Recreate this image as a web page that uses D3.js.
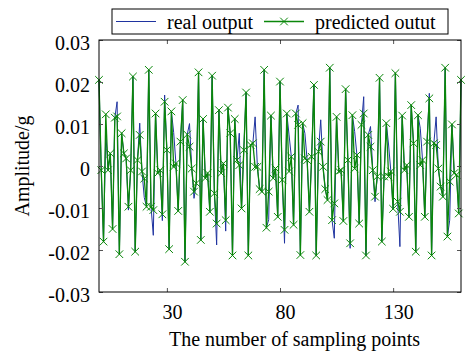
<!DOCTYPE html>
<html>
<head>
<meta charset="utf-8">
<script src="https://cdn.jsdelivr.net/npm/d3@7"></script>
<style>
  html, body { margin: 0; padding: 0; background: #fff; }
  svg { display: block; }
  text { font-family: "Times New Roman", "Liberation Serif", serif; fill: #000; }
</style>
</head>
<body>
<svg id="chart" width="468" height="351"></svg>
<script>
// Predicted output, one value per sampling point (0..160)
const predictedOutput = [
  0.0205, -0.0010, -0.0180, 0.0123, -0.0010, 0.0030, -0.0150, 0.0115, 0.0118, -0.0210,
  0.0078, 0.0030, 0.0018, -0.0097, -0.0010, 0.0213, -0.0204, 0.0014, 0.0074, -0.0013,
  -0.0030, -0.0097, 0.0229, -0.0097, -0.0105, 0.0125, -0.0017, -0.0010, -0.0115, 0.0153,
  0.0038, -0.0198, 0.0130, -0.0002, 0.0006, -0.0107, 0.0058, 0.0157, -0.0228, 0.0075,
  0.0046, -0.0006, -0.0061, -0.0041, 0.0223, -0.0176, 0.0112, -0.0029, -0.0017, -0.0109,
  0.0215, -0.0065, -0.0137, 0.0133, -0.0017, 0.0006, -0.0129, 0.0139, 0.0078, -0.0213,
  0.0112, 0.0014, 0.0002, -0.0101, 0.0038, 0.0175, -0.0213, 0.0050, 0.0054, -0.0002,
  -0.0002, -0.0055, -0.0061, 0.0229, -0.0147, -0.0061, 0.0120, -0.0029, -0.0006, -0.0121,
  0.0201, -0.0033, -0.0152, 0.0125, -0.0013, 0.0022, -0.0140, 0.0125, 0.0098, -0.0212,
  0.0102, 0.0018, 0.0014, -0.0109, 0.0022, 0.0193, -0.0213, 0.0034, 0.0058, -0.0002,
  -0.0055, -0.0081, 0.0234, -0.0129, -0.0089, 0.0117, -0.0013, -0.0010, -0.0131, 0.0183,
  0.0014, -0.0184, 0.0121, -0.0006, 0.0026, -0.0137, 0.0098, 0.0125, -0.0213, 0.0074,
  0.0046, -0.0010, -0.0073, -0.0025, 0.0210, -0.0180, -0.0025, 0.0102, -0.0025, -0.0013,
  -0.0102, 0.0221, -0.0085, -0.0109, 0.0120, -0.0010, 0.0002, -0.0121, 0.0145, 0.0054,
  -0.0204, 0.0121, 0.0002, 0.0014, -0.0121, 0.0058, 0.0161, -0.0213, 0.0054, 0.0050,
  -0.0006, -0.0049, -0.0073, 0.0234, -0.0168, -0.0037, 0.0099, -0.0017, -0.0021, -0.0113,
  0.0205
];

// Measured (real) output at the same sampling points
const realOutput = [
  0.0205, -0.0010, -0.0180, 0.0080, -0.0010, 0.0030, -0.0150, 0.0115, 0.0153, -0.0210,
  0.0078, 0.0030, 0.0018, -0.0105, -0.0010, 0.0213, -0.0204, 0.0014, 0.0102, -0.0013,
  -0.0075, -0.0097, 0.0229, -0.0097, -0.0165, 0.0125, -0.0017, -0.0010, -0.0130, 0.0169,
  0.0038, -0.0198, 0.0130, 0.0080, 0.0006, -0.0107, 0.0058, 0.0157, -0.0228, 0.0075,
  0.0101, -0.0006, -0.0077, -0.0041, 0.0223, -0.0176, 0.0112, -0.0029, -0.0017, -0.0109,
  0.0215, -0.0065, -0.0188, 0.0133, -0.0017, 0.0006, -0.0155, 0.0139, 0.0078, -0.0213,
  0.0112, 0.0014, 0.0078, -0.0101, 0.0038, 0.0175, -0.0213, 0.0050, 0.0054, 0.0117,
  -0.0002, -0.0055, -0.0061, 0.0229, -0.0147, -0.0128, 0.0120, -0.0029, -0.0006, -0.0121,
  0.0201, -0.0033, -0.0184, 0.0125, 0.0074, 0.0022, -0.0140, 0.0125, 0.0145, -0.0212,
  0.0102, 0.0078, 0.0014, -0.0109, 0.0022, 0.0193, -0.0213, 0.0034, 0.0110, -0.0002,
  -0.0055, -0.0081, 0.0234, -0.0129, -0.0172, 0.0117, -0.0013, -0.0010, -0.0131, 0.0183,
  0.0014, -0.0196, 0.0121, 0.0082, 0.0026, -0.0137, 0.0098, 0.0165, -0.0213, 0.0074,
  0.0094, -0.0010, -0.0085, -0.0025, 0.0210, -0.0180, -0.0025, 0.0102, 0.0050, -0.0013,
  -0.0102, 0.0221, -0.0085, -0.0192, 0.0120, -0.0010, 0.0002, -0.0121, 0.0145, 0.0054,
  -0.0204, 0.0121, 0.0090, 0.0014, -0.0121, 0.0058, 0.0173, -0.0213, 0.0054, 0.0117,
  -0.0006, -0.0049, -0.0073, 0.0234, -0.0168, -0.0129, 0.0099, -0.0017, -0.0021, -0.0113,
  0.0205
];

const xTickValues = [30, 80, 130];
const yTickValues = [-0.03, -0.02, -0.01, 0, 0.01, 0.02, 0.03];
const yTickLabels = ["-0.03", "-0.02", "-0.01", "0", "0.01", "0.02", "0.03"];
const seriesNames = ["real output", "predicted outut"];
const seriesColors = ["#1f33a0", "#0a870a"];
const xLabel = "The number of sampling points";
const yLabel = "Amplitude/g";

const svg = d3.select("#chart");
const margin = { left: 99, top: 40, right: 7, bottom: 59 };
const W = 468, H = 351;
const plotW = W - margin.left - margin.right;
const plotH = H - margin.top - margin.bottom;

const x = d3.scaleLinear().domain([0, 160]).range([0, plotW]);
const y = d3.scaleLinear().domain([-0.03, 0.03]).range([plotH, 0]);

const g = svg.append("g").attr("transform", `translate(${margin.left},${margin.top})`);

// Series lines
const line = d3.line().x((d, i) => x(i)).y(d => y(d));

g.append("path")
  .datum(realOutput)
  .attr("fill", "none")
  .attr("stroke", seriesColors[0])
  .attr("stroke-width", 1)
  .attr("stroke-linejoin", "round")
  .attr("d", line);

g.append("path")
  .datum(predictedOutput)
  .attr("fill", "none")
  .attr("stroke", seriesColors[1])
  .attr("stroke-width", 1.3)
  .attr("stroke-linejoin", "round")
  .attr("d", line);

// Cross markers on the predicted series
const m = 3.8;
const crossPath = `M${-m},${-m}L${m},${m}M${-m},${m}L${m},${-m}`;
g.append("g").selectAll("path")
  .data(predictedOutput)
  .join("path")
  .attr("transform", (d, i) => `translate(${x(i)},${y(d)})`)
  .attr("d", crossPath)
  .attr("fill", "none")
  .attr("stroke", seriesColors[1])
  .attr("stroke-width", 1);

// Axes with inward ticks on all four sides
const tickLen = 4;
const fontSize = 20;

const yAxisL = g.append("g")
  .call(d3.axisLeft(y).tickValues(yTickValues)
    .tickFormat((d, i) => yTickLabels[i]).tickSize(-tickLen).tickPadding(9));
yAxisL.selectAll("text").attr("font-size", fontSize).attr("dy", "0.48em")
  .attr("font-family", '"Times New Roman", "Liberation Serif", serif');

g.append("g").attr("transform", `translate(${plotW},0)`)
  .call(d3.axisRight(y).tickValues(yTickValues).tickFormat("").tickSize(-tickLen));

const xAxisB = g.append("g").attr("transform", `translate(0,${plotH})`)
  .call(d3.axisBottom(x).tickValues(xTickValues).tickFormat(d3.format("d"))
    .tickSize(-tickLen).tickPadding(13));
xAxisB.selectAll("text").attr("font-size", fontSize).attr("dx", 5)
  .attr("font-family", '"Times New Roman", "Liberation Serif", serif');

g.append("g")
  .call(d3.axisTop(x).tickValues(xTickValues).tickFormat("").tickSize(-tickLen));

g.selectAll(".domain").remove();
g.selectAll(".tick line").attr("stroke", "#555");

// Plot frame
g.append("rect")
  .attr("x", 0).attr("y", 0).attr("width", plotW).attr("height", plotH)
  .attr("fill", "none").attr("stroke", "#000").attr("stroke-width", 1);

// Axis titles
svg.append("text")
  .attr("x", 294.5)
  .attr("y", 346)
  .attr("text-anchor", "middle")
  .attr("font-size", fontSize)
  .text(xLabel);

svg.append("text")
  .attr("transform", `translate(29,${margin.top + plotH / 2}) rotate(-90)`)
  .attr("text-anchor", "middle")
  .attr("font-size", fontSize)
  .text(yLabel);

// Legend
const legend = svg.append("g");
legend.append("rect")
  .attr("x", 112).attr("y", 9).attr("width", 336).attr("height", 25)
  .attr("fill", "#fff").attr("stroke", "#000").attr("stroke-width", 1);

const legendItems = [
  { name: seriesNames[0], color: seriesColors[0], x0: 116, marker: false, w: 1 },
  { name: seriesNames[1], color: seriesColors[1], x0: 264, marker: true, w: 1.3 }
];
const li = legend.selectAll("g.item").data(legendItems).join("g").attr("class", "item");
li.append("line")
  .attr("x1", d => d.x0).attr("x2", d => d.x0 + 40)
  .attr("y1", 21.5).attr("y2", 21.5)
  .attr("stroke", d => d.color).attr("stroke-width", d => d.w);
li.filter(d => d.marker).append("path")
  .attr("transform", d => `translate(${d.x0 + 20},21.5)`)
  .attr("d", crossPath)
  .attr("fill", "none").attr("stroke", d => d.color).attr("stroke-width", 1);
li.append("text")
  .attr("x", d => d.x0 + 51).attr("y", 28.5)
  .attr("font-size", fontSize)
  .text(d => d.name);
</script>
</body>
</html>
